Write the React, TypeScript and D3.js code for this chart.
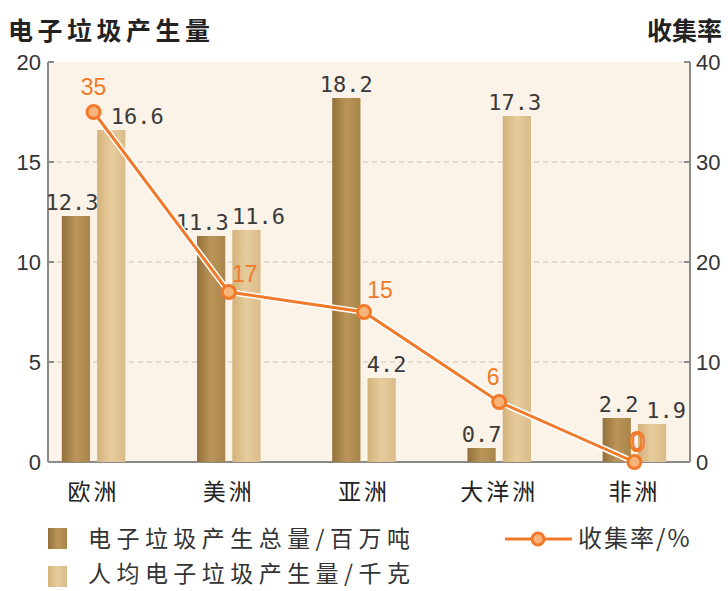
import React from "react";
import * as d3 from "d3";

const categories = ["欧洲", "美洲", "亚洲", "大洋洲", "非洲"];
const totalValues = [12.3, 11.3, 18.2, 0.7, 2.2];
const perCapitaValues = [16.6, 11.6, 4.2, 17.3, 1.9];
const rateValues = [35, 17, 15, 6, 0];
const leftTicks = [0, 5, 10, 15, 20];
const rightTicks = [0, 10, 20, 30, 40];
const legendBars = ["电子垃圾产生总量/百万吨", "人均电子垃圾产生量/千克"];
const legendLine = "收集率/%";

// label offsets (style only)
const rateLabelOffsets: [number, number][] = [[0, -17], [16, -10], [16, -14], [-6, -17], [3, -11]];
const totalLabelOffsets = [-4, -9, 0, 0, 2];
const perCapLabelOffsets = [26, 12, 5, -2, 14];

const W = 728, H = 591;
const plotL = 48, plotR = 690, plotT = 62, plotB = 462;

export default function App() {
  const x0 = d3.scaleBand<string>().domain(categories).range([26, 702]).paddingInner(0.53).paddingOuter(0.265);
  const x1 = d3.scaleBand<number>().domain([0, 1]).range([0, x0.bandwidth()]).paddingInner(0.2);
  const yL = d3.scaleLinear().domain([0, 20]).range([plotB, plotT]);
  const yR = d3.scaleLinear().domain([0, 40]).range([plotB, plotT]);
  const cx = (c: string) => (x0(c) as number) + x0.bandwidth() / 2;
  const line = d3.line<number>().x((_, i) => cx(categories[i])).y((d) => yR(d));
  const orange = "#f07a2a";
  const axisColor = "#8a8a8a";
  const numFont = "'Liberation Sans', Arial, sans-serif";
  const monoFont = "'DejaVu Sans Mono', monospace";
  const cjk = "'Noto Sans CJK SC', sans-serif";

  return (
    <svg width={W} height={H} style={{ position: "absolute", left: 0, top: 0, background: "#fff" }}>
      <defs>
        <linearGradient id="darkG" x1="0" x2="1" y1="0" y2="0">
          <stop offset="0" stopColor="#93713c" />
          <stop offset="0.5" stopColor="#bb9558" />
          <stop offset="1" stopColor="#a9854b" />
        </linearGradient>
        <linearGradient id="lightG" x1="0" x2="1" y1="0" y2="0">
          <stop offset="0" stopColor="#d4b37b" />
          <stop offset="0.5" stopColor="#e6cc9d" />
          <stop offset="1" stopColor="#d9bb87" />
        </linearGradient>
      </defs>
      <rect x={plotL} y={plotT} width={plotR - plotL} height={plotB - plotT} fill="#fcf3e8" />
      {leftTicks.filter((t) => t > 0 && t < 20).map((t) => (
        <line key={t} x1={plotL} x2={plotR} y1={yL(t)} y2={yL(t)} stroke="#c9c2ba" strokeDasharray="5,4" strokeWidth={1.2} />
      ))}
      {/* axes */}
      <line x1={plotL} x2={plotL} y1={plotT} y2={plotB} stroke={axisColor} strokeWidth={2} />
      <line x1={plotR} x2={plotR} y1={plotT} y2={plotB} stroke={axisColor} strokeWidth={2} />
      <line x1={plotL} x2={plotR} y1={plotB} y2={plotB} stroke={axisColor} strokeWidth={2} />
      {leftTicks.map((t) => (
        <g key={"l" + t}>
          <line x1={plotL} x2={plotL + 6} y1={yL(t)} y2={yL(t)} stroke={axisColor} strokeWidth={2} />
          <text x={plotL - 7} y={yL(t)} dy="0.35em" textAnchor="end" fontSize={22} fontFamily={numFont} fill="#333">{t}</text>
        </g>
      ))}
      {rightTicks.map((t) => (
        <g key={"r" + t}>
          <line x1={plotR - 6} x2={plotR} y1={yR(t)} y2={yR(t)} stroke={axisColor} strokeWidth={2} />
          <text x={plotR + 6} y={yR(t)} dy="0.35em" textAnchor="start" fontSize={22} fontFamily={numFont} fill="#333">{t}</text>
        </g>
      ))}
      <text x={8} y={40} fontSize={25} fontWeight="bold" fontFamily={cjk} fill="#222" textLength={202} lengthAdjust="spacing">电子垃圾产生量</text>
      <text x={722} y={40} textAnchor="end" fontSize={25} fontWeight="bold" fontFamily={cjk} fill="#222">收集率</text>
      {/* bars */}
      {categories.map((c, i) => {
        const bx0 = (x0(c) as number) + (x1(0) as number);
        const bx1 = (x0(c) as number) + (x1(1) as number);
        const bw = x1.bandwidth();
        return (
          <g key={c}>
            <rect x={bx0} y={yL(totalValues[i])} width={bw} height={plotB - yL(totalValues[i])} fill="url(#darkG)" />
            <rect x={bx1} y={yL(perCapitaValues[i])} width={bw} height={plotB - yL(perCapitaValues[i])} fill="url(#lightG)" />
            <text x={bx0 + bw / 2 + totalLabelOffsets[i]} y={yL(totalValues[i]) - 6} textAnchor="middle" fontSize={22} fontFamily={monoFont} fill="#3a3a3a">{totalValues[i].toFixed(1)}</text>
            <text x={bx1 + bw / 2 + perCapLabelOffsets[i]} y={yL(perCapitaValues[i]) - 6} textAnchor="middle" fontSize={22} fontFamily={monoFont} fill="#3a3a3a">{perCapitaValues[i].toFixed(1)}</text>
            <text x={cx(c)} y={500} textAnchor="middle" fontSize={23} fontFamily={cjk} letterSpacing={3} fill="#222">{c}</text>
          </g>
        );
      })}
      {/* line */}
      <path d={line(rateValues) || ""} fill="none" stroke="#fff" strokeWidth={6} />
      <path d={line(rateValues) || ""} fill="none" stroke={orange} strokeWidth={3} />
      {rateValues.map((v, i) => (
        <g key={"p" + i}>
          <circle cx={cx(categories[i])} cy={yR(v)} r={6.5} fill="#f8b47a" stroke={orange} strokeWidth={3} />
          <text x={cx(categories[i]) + rateLabelOffsets[i][0]} y={yR(v) + rateLabelOffsets[i][1]} textAnchor="middle" fontSize={v === 0 ? 28 : 23} fontFamily={numFont}
            fill={v === 0 ? "#fff" : orange} stroke={v === 0 ? orange : "none"} strokeWidth={2}>{v}</text>
        </g>
      ))}
      {/* legend */}
      <rect x={48} y={528} width={19} height={21} fill="url(#darkG)" />
      <text x={88} y={547} fontSize={23} fontFamily={cjk} fill="#333" textLength={322} lengthAdjust="spacing">{legendBars[0]}</text>
      <rect x={48} y={566} width={19} height={21} fill="url(#lightG)" />
      <text x={88} y={582} fontSize={23} fontFamily={cjk} fill="#333" textLength={322} lengthAdjust="spacing">{legendBars[1]}</text>
      <line x1={505} x2={572} y1={539} y2={539} stroke={orange} strokeWidth={3} />
      <circle cx={538} cy={539} r={6} fill="#f8b47a" stroke={orange} strokeWidth={3} />
      <text x={578} y={547} fontSize={24} fontFamily={cjk} letterSpacing={2} fill="#333">{legendLine}</text>
    </svg>
  );
}
